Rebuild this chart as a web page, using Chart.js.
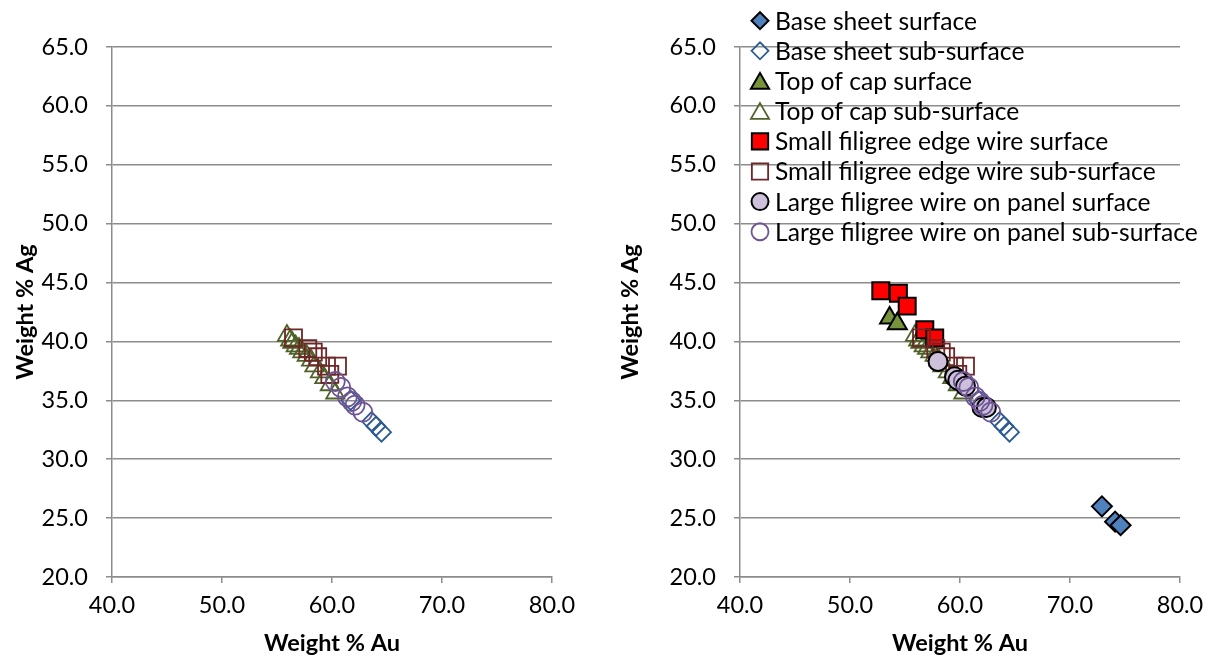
<!DOCTYPE html>
<html><head><meta charset="utf-8">
<script src="https://cdn.jsdelivr.net/npm/chart.js@4/dist/chart.umd.min.js"></script>
<style>
html,body{margin:0;padding:0;background:#fff;}
#wrap{position:relative;width:1214px;height:664px;overflow:hidden;background:#fff;}
.box{position:absolute;top:0;height:664px;}
canvas{display:block;}
</style></head><body>
<div id="wrap">
<div class="box" style="left:0;width:600px"><canvas id="c1" width="600" height="664"></canvas></div>
<div class="box" style="left:600px;width:614px"><canvas id="c2" width="614" height="664"></canvas></div>
</div>
<script>
// ---- data (Weight % Au, Weight % Ag) ----
const seriesNames = [
  'Base sheet surface', 'Base sheet sub-surface',
  'Top of cap surface', 'Top of cap sub-surface',
  'Small filigree edge wire surface', 'Small filigree edge wire sub-surface',
  'Large filigree wire on panel surface', 'Large filigree wire on panel sub-surface'
];
const baseSurfAu = [72.9, 74.1, 74.6];
const baseSurfAg = [26.0, 24.7, 24.4];
const baseSubAu = [61.7, 63.6, 64.0, 64.5];
const baseSubAg = [35.0, 33.2, 32.8, 32.3];
const capSurfAu = [53.6, 54.3];
const capSurfAg = [42.0, 41.5];
const capSubAu = [55.9, 56.2, 56.4, 56.7, 57.0, 57.3, 57.7, 58.1, 58.4, 58.9, 59.3, 59.8, 60.3];
const capSubAg = [40.5, 40.1, 39.9, 39.6, 39.4, 39.1, 38.8, 38.4, 37.9, 37.4, 36.9, 36.3, 35.6];
const smallSurfAu = [52.8, 54.4, 55.2, 56.8, 57.7];
const smallSurfAg = [44.3, 44.1, 43.0, 41.0, 40.3];
const smallSubAu = [56.5, 57.8, 58.3, 58.7, 59.5, 60.5, 59.8];
const smallSubAg = [40.3, 39.4, 39.1, 38.7, 37.9, 37.9, 37.2];
const largeSurfAu = [58.0, 59.5, 59.8, 60.5, 62.0, 62.4];
const largeSurfAg = [38.3, 37.0, 36.7, 36.2, 34.4, 34.4];
const largeSubAu = [60.3, 60.8, 61.4, 61.8, 62.1, 62.8];
const largeSubAg = [36.6, 36.1, 35.3, 34.9, 34.6, 34.0];
const auTicks = [40, 50, 60, 70, 80];
const agTicks = [20, 25, 30, 35, 40, 45, 50, 55, 60, 65];
const xTitle = 'Weight % Au';
const yTitle = 'Weight % Ag';

// ---- styling ----
const FONT = 'Lato, "Open Sans", sans-serif';
const GRID = '#8c8c8c';
const pts = (xs, ys) => xs.map((x, i) => ({x, y: ys[i]}));
const NONE = 'rgba(0,0,0,0)';
const styles = [
  {pointStyle:'rectRot', bg:'#4F81BD', bd:'#000', bw:2, r:10, lr:8.5},
  {pointStyle:'rectRot', bg:NONE, bd:'#2C5B8F', bw:1.8, r:9.5, lr:8.5},
  {pointStyle:'triangle', bg:'#77933C', bd:'#000', bw:2, r:11, lr:10.5},
  {pointStyle:'triangle', bg:NONE, bd:'#4F6228', bw:1.8, r:10.5, lr:10.5},
  {pointStyle:'rect', bg:'#FF0000', bd:'#000', bw:2, r:12, lr:11.5},
  {pointStyle:'rect', bg:NONE, bd:'#6E2626', bw:1.8, r:12, lr:11.5},
  {pointStyle:'circle', bg:'#CCC0DA', bd:'#000', bw:2, r:9.5, lr:8.5},
  {pointStyle:'circle', bg:NONE, bd:'#6E5494', bw:1.8, r:9.5, lr:8.5}
];
const allData = [
  pts(baseSurfAu, baseSurfAg), pts(baseSubAu, baseSubAg),
  pts(capSurfAu, capSurfAg), pts(capSubAu, capSubAg),
  pts(smallSurfAu, smallSurfAg), pts(smallSubAu, smallSubAg),
  pts(largeSurfAu, largeSurfAg), pts(largeSubAu, largeSubAg)
];
function makeDataset(i) {
  const s = styles[i];
  return {
    label: seriesNames[i], data: allData[i],
    pointStyle: s.pointStyle, backgroundColor: s.bg, borderColor: s.bd,
    pointBackgroundColor: s.bg, pointBorderColor: s.bd,
    pointBorderWidth: s.bw, borderWidth: s.bw, pointRadius: s.r, pointHoverRadius: s.r,
    legendRadius: s.lr, showLine: false, order: -i
  };
}

const manualLegend = {
  id: 'manualLegend',
  afterDraw(chart, args, opts) {
    if (!opts.show) return;
    const ctx = chart.ctx;
    ctx.save();
    const names = chart.data.datasets.map(d => d.label);
    let size = 22;
    ctx.font = size + 'px ' + FONT;
    const longest = Math.max(...names.map(n => ctx.measureText(n).width));
    size = Math.max(19, Math.min(25, size * opts.textWidth / longest));
    chart.data.datasets.forEach((ds, i) => {
      const y = opts.y0 + i * opts.dy;
      ctx.fillStyle = ds.backgroundColor;
      ctx.strokeStyle = ds.borderColor;
      ctx.lineWidth = ds.borderWidth;
      Chart.helpers.drawPoint(ctx, {pointStyle: ds.pointStyle, rotation: 0, radius: ds.legendRadius, borderWidth: ds.borderWidth}, opts.markerX, y + (ds.pointStyle === 'triangle' ? 2.5 : 0));
      ctx.fillStyle = '#000';
      ctx.font = size + 'px ' + FONT;
      ctx.textBaseline = 'middle';
      ctx.textAlign = 'left';
      ctx.fillText(ds.label, opts.textX, y + 1);
    });
    ctx.restore();
  }
};

function makeChart(id, idxs, opt) {
  return new Chart(document.getElementById(id), {
    type: 'scatter',
    data: {datasets: idxs.map(makeDataset)},
    plugins: [manualLegend],
    options: {
      responsive: false, animation: false, devicePixelRatio: 1,
      layout: {padding: {top: 47, right: opt.padRight, bottom: 0, left: 0}},
      plugins: {
        legend: {display: false}, tooltip: {enabled: false},
        manualLegend: opt.legend
      },
      scales: {
        x: {
          type: 'linear', min: 40, max: 80,
          afterBuildTicks: s => { s.ticks = auTicks.map(v => ({value: v})); },
          afterFit: s => { s.height = 87; },
          grid: {drawOnChartArea: false, drawTicks: true, tickLength: 6, color: GRID, lineWidth: 1.5},
          border: {display: true, color: GRID, width: 1.5},
          ticks: {color: '#000', padding: 8, maxRotation: 0, font: {family: FONT, size: 23.5}, callback: v => Number(v).toFixed(1)},
          title: {display: true, text: xTitle, color: '#000', font: {family: FONT, size: 23.5, weight: 'bold'}, padding: {top: 0, bottom: 6}}
        },
        y: {
          type: 'linear', min: 20, max: 65,
          afterBuildTicks: s => { s.ticks = agTicks.map(v => ({value: v})); },
          afterFit: s => { s.width = opt.axisLeft; },
          grid: {drawTicks: true, tickLength: 6, color: GRID, lineWidth: 1.5},
          border: {display: true, color: GRID, width: 1.5},
          ticks: {color: '#000', padding: 18, font: {family: FONT, size: 23.5}, callback: v => Number(v).toFixed(1)},
          title: {display: true, text: yTitle, color: '#000', font: {family: FONT, size: 23.5, weight: 'bold'}, padding: {top: opt.yTitlePad, bottom: 0}}
        }
      }
    }
  });
}

makeChart('c1', [1, 3, 5, 7], {padRight: 48, axisLeft: 112, yTitlePad: 11, legend: {show: false}});
makeChart('c2', [0, 1, 2, 3, 4, 5, 6, 7], {padRight: 34, axisLeft: 140, yTitlePad: 16,
  legend: {show: true, markerX: 160, textX: 175, y0: 20.7, dy: 30.15, textWidth: 423}});
</script>
</body></html>
